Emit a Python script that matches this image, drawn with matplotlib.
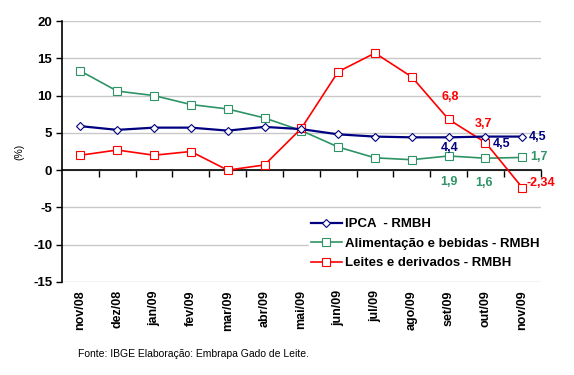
import matplotlib
matplotlib.use("Agg")
import matplotlib.pyplot as plt
import numpy as np

plt.rcParams['font.family'] = ['Liberation Sans', 'DejaVu Sans']
plt.rcParams['axes.unicode_minus'] = False

# dados
meses = ["nov/08", "dez/08", "jan/09", "fev/09", "mar/09", "abr/09", "mai/09",
         "jun/09", "jul/09", "ago/09", "set/09", "out/09", "nov/09"]
ipca = [5.9, 5.4, 5.7, 5.7, 5.3, 5.8, 5.5, 4.8, 4.5, 4.4, 4.4, 4.5, 4.5]
alimentacao = [13.3, 10.6, 10.0, 8.8, 8.2, 7.0, 5.3, 3.1, 1.65, 1.4, 1.9, 1.6, 1.7]
leites = [2.0, 2.7, 2.0, 2.5, 0.0, 0.7, 5.6, 13.2, 15.7, 12.5, 6.8, 3.7, -2.34]

azul = "#000080"
verde = "#2E9466"
vermelho = "#FF0000"

fig = plt.figure(figsize=(5.74, 3.75), dpi=100)
ax = fig.add_axes([0.108, 0.248, 0.834, 0.696])

x = np.arange(len(meses))

ax.plot(x, ipca, color=azul, lw=1.6, marker='D', ms=4.5, mfc='white', mec=azul,
        mew=0.8, label="IPCA  - RMBH", zorder=4)
ax.plot(x, alimentacao, color=verde, lw=1.2, marker='s', ms=5.5, mfc='white', mec=verde,
        mew=0.8, label="Alimentação e bebidas - RMBH", zorder=3)
ax.plot(x, leites, color=vermelho, lw=1.2, marker='s', ms=5.5, mfc='white', mec=vermelho,
        mew=0.8, label="Leites e derivados - RMBH", zorder=3)

ax.set_xlim(-0.5, len(meses) - 0.5)
ax.set_ylim(-15, 20)
ax.set_yticks(range(-15, 21, 5))
ax.yaxis.grid(True, color="#C8C8C8", lw=1)
ax.set_axisbelow(True)
for lbl in ax.get_yticklabels():
    lbl.set_fontweight('bold')
ax.tick_params(axis='y', labelsize=9.5, length=4, width=1, pad=3)
ax.set_ylabel("(%)", fontsize=7.5, labelpad=6)

for s in ["top", "right"]:
    ax.spines[s].set_visible(False)
ax.spines["left"].set_linewidth(1.2)
ax.spines["bottom"].set_position(("data", 0))
ax.spines["bottom"].set_linewidth(1.2)

# marcas entre categorias no eixo em zero
ax.set_xticks(np.arange(0.5, len(meses) - 0.5 + 1, 1))
ax.tick_params(axis='x', length=5, width=1, labelbottom=False)

# rótulos no fundo
sec = ax.secondary_xaxis(0)
sec.set_xticks(x)
sec.set_xticklabels(meses, rotation=90, fontsize=9, fontweight='bold')
sec.tick_params(length=0, pad=6)
sec.spines["bottom"].set_visible(False)

# rótulos de valores
kw = dict(fontsize=9, fontweight='bold')
ax.annotate("4,5", (12, ipca[12]), xytext=(5, 0), textcoords='offset points',
            color=azul, va='center', **kw)
ax.annotate("4,4", (10, ipca[10]), xytext=(1, -7.5), textcoords='offset points',
            color=azul, ha='center', va='center', **kw)
ax.annotate("4,5", (11, ipca[11]), xytext=(11.5, -5), textcoords='offset points',
            color=azul, ha='center', va='center', **kw)
ax.annotate("1,7", (12, alimentacao[12]), xytext=(5.5, 0), textcoords='offset points',
            color=verde, va='center', **kw)
ax.annotate("1,9", (10, alimentacao[10]), xytext=(0, -19), textcoords='offset points',
            color=verde, ha='center', va='center', **kw)
ax.annotate("1,6", (11, alimentacao[11]), xytext=(-1, -18), textcoords='offset points',
            color=verde, ha='center', va='center', **kw)
ax.annotate("6,8", (10, leites[10]), xytext=(1, 16), textcoords='offset points',
            color=vermelho, ha='center', va='center', **kw)
ax.annotate("3,7", (11, leites[11]), xytext=(-1.5, 13), textcoords='offset points',
            color=vermelho, ha='center', va='center', **kw)
ax.annotate("-2,34", (12, leites[12]), xytext=(3, 3), textcoords='offset points',
            color=vermelho, va='center', **kw)

leg = ax.legend(loc='upper left', bbox_to_anchor=(0.515, 0.255), frameon=True,
                framealpha=1, edgecolor='white', fancybox=False, fontsize=9.5,
                handlelength=2.3, handletextpad=0.3, labelspacing=0.55,
                borderpad=0.2, borderaxespad=0)
for t in leg.get_texts():
    t.set_fontweight('bold')

fig.text(0.136, 0.048, "Fonte: IBGE Elaboração: Embrapa Gado de Leite.", fontsize=7.5)

fig.savefig("out.png", dpi=100)
